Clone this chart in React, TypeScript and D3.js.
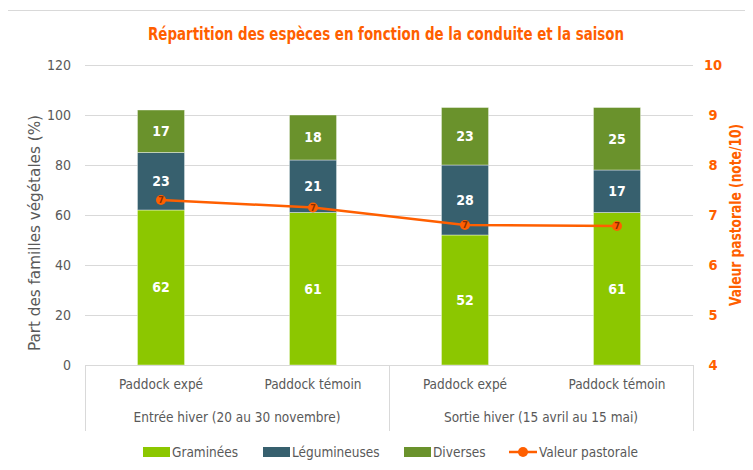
import { useEffect, useRef } from "react";
import * as d3 from "d3";

const categories = ["Paddock expé", "Paddock témoin", "Paddock expé", "Paddock témoin"];
const groups = ["Entrée hiver (20 au 30 novembre)", "Sortie hiver (15 avril au 15 mai)"];
const graminees = [62, 61, 52, 61];
const legumineuses = [23, 21, 28, 17];
const diverses = [17, 18, 23, 25];
const valeurPastorale = [7.3, 7.15, 6.8, 6.78];
const leftTicks = [0, 20, 40, 60, 80, 100, 120];
const rightTicks = [4, 5, 6, 7, 8, 9, 10];

const seriesNames = ["Graminées", "Légumineuses", "Diverses"];
const seriesColors = ["#8CC700", "#37606E", "#6A922C"];
const lineColor = "#FF5F00";
const FONT = "'Liberation Sans Narrow', 'DejaVu Sans Condensed', sans-serif";

export default function App() {
  const ref = useRef<SVGSVGElement>(null);

  useEffect(() => {
    if (!ref.current) return;
    const width = 753;
    const height = 470;
    const margin = { top: 65, right: 60, bottom: 105, left: 85 };
    const innerWidth = width - margin.left - margin.right;
    const innerHeight = height - margin.top - margin.bottom;

    const root = d3.select(ref.current);
    root.selectAll("*").remove();
    root.attr("width", width).attr("height", height).style("font-family", FONT);

    // frame
    root
      .append("rect")
      .attr("x", 5.5)
      .attr("y", 10.5)
      .attr("width", 760)
      .attr("height", 470)
      .attr("fill", "white")
      .attr("stroke", "#d9d9d9");

    root
      .append("text")
      .attr("x", 386)
      .attr("y", 40)
      .attr("text-anchor", "middle")
      .attr("fill", lineColor)
      .attr("font-size", 18)
      .attr("font-weight", "bold")
      .attr("textLength", 476)
      .attr("lengthAdjust", "spacingAndGlyphs")
      .text("Répartition des espèces en fonction de la conduite et la saison");

    const svg = root.append("g").attr("transform", `translate(${margin.left},${margin.top})`);

    const x = d3.scaleBand<number>().domain(d3.range(categories.length)).range([0, innerWidth]);
    const y = d3.scaleLinear().domain([0, 120]).range([innerHeight, 0]);
    const y2 = d3.scaleLinear().domain([4, 10]).range([innerHeight, 0]);
    const barW = x.bandwidth() * 0.31;

    // gridlines
    svg
      .append("g")
      .selectAll("line")
      .data(leftTicks.slice(1))
      .join("line")
      .attr("x1", 0)
      .attr("x2", innerWidth)
      .attr("y1", (d) => y(d) + 0.5)
      .attr("y2", (d) => y(d) + 0.5)
      .attr("stroke", "#d9d9d9")
      .attr("stroke-width", 1);

    // left tick labels
    svg
      .append("g")
      .selectAll("text")
      .data(leftTicks)
      .join("text")
      .attr("x", -14)
      .attr("y", (d) => y(d))
      .attr("dy", "0.35em")
      .attr("text-anchor", "end")
      .attr("fill", "#595959")
      .attr("font-size", 14)
      .text((d) => d);

    // right tick labels
    svg
      .append("g")
      .selectAll("text")
      .data(rightTicks)
      .join("text")
      .attr("x", innerWidth + 20)
      .attr("y", (d) => y2(d))
      .attr("dy", "0.35em")
      .attr("text-anchor", "middle")
      .attr("fill", lineColor)
      .attr("font-weight", "bold")
      .attr("font-size", 14.5)
      .text((d) => d);

    // axis titles
    svg
      .append("text")
      .attr("transform", `translate(-45,${innerHeight / 2 + 18}) rotate(-90)`)
      .attr("text-anchor", "middle")
      .attr("fill", "#595959")
      .attr("font-size", 15)
      .attr("textLength", 236)
      .attr("lengthAdjust", "spacingAndGlyphs")
      .text("Part des familles végétales (%)");

    svg
      .append("text")
      .attr("transform", `translate(${innerWidth + 48},${innerHeight / 2}) rotate(-90)`)
      .attr("text-anchor", "middle")
      .attr("fill", lineColor)
      .attr("font-weight", "bold")
      .attr("font-size", 15)
      .attr("textLength", 182)
      .attr("lengthAdjust", "spacingAndGlyphs")
      .text("Valeur pastorale (note/10)");

    // stacked bars
    const rows = categories.map((_, i) => ({ i, g: graminees[i], l: legumineuses[i], d: diverses[i] }));
    const stack = d3.stack<(typeof rows)[number]>().keys(["g", "l", "d"]);
    const stacked = stack(rows);

    stacked.forEach((layer, k) => {
      const gLayer = svg.append("g");
      gLayer
        .selectAll("rect")
        .data(layer)
        .join("rect")
        .attr("x", (d) => x(d.data.i)! + (x.bandwidth() - barW) / 2)
        .attr("y", (d) => y(d[1]))
        .attr("width", barW)
        .attr("height", (d) => y(d[0]) - y(d[1]))
        .attr("fill", seriesColors[k])
        .attr("stroke", "rgba(255,255,255,0.5)")
        .attr("stroke-width", 0.8);
      gLayer
        .selectAll("text")
        .data(layer)
        .join("text")
        .attr("x", (d) => x(d.data.i)! + x.bandwidth() / 2)
        .attr("y", (d) => y((d[0] + d[1]) / 2))
        .attr("dy", "0.35em")
        .attr("text-anchor", "middle")
        .attr("fill", "white")
        .attr("font-weight", "bold")
        .attr("font-size", 14)
        .text((d) => d[1] - d[0]);
    });

    // category axis box
    const axisG = svg.append("g").attr("transform", `translate(0,${innerHeight})`);
    axisG
      .append("line")
      .attr("x1", 0)
      .attr("x2", innerWidth)
      .attr("y1", 0.5)
      .attr("y2", 0.5)
      .attr("stroke", "#d9d9d9");
    [0, innerWidth / 2, innerWidth].forEach((vx) => {
      axisG
        .append("line")
        .attr("x1", vx + 0.5)
        .attr("x2", vx + 0.5)
        .attr("y1", 0)
        .attr("y2", 66)
        .attr("stroke", "#d9d9d9");
    });
    axisG
      .selectAll("text.cat")
      .data(categories)
      .join("text")
      .attr("class", "cat")
      .attr("x", (_, i) => x(i)! + x.bandwidth() / 2)
      .attr("y", 24)
      .attr("text-anchor", "middle")
      .attr("fill", "#595959")
      .attr("font-size", 13.5)
      .text((d) => d);
    axisG
      .selectAll("text.grp")
      .data(groups)
      .join("text")
      .attr("class", "grp")
      .attr("x", (_, i) => (i + 0.5) * (innerWidth / 2))
      .attr("y", 57)
      .attr("text-anchor", "middle")
      .attr("fill", "#595959")
      .attr("font-size", 13.5)
      .text((d) => d);

    // line
    const line = d3
      .line<number>()
      .x((_, i) => x(i)! + x.bandwidth() / 2)
      .y((d) => y2(d));
    svg
      .append("path")
      .datum(valeurPastorale)
      .attr("fill", "none")
      .attr("stroke", lineColor)
      .attr("stroke-width", 2.5)
      .attr("d", line);
    svg
      .append("g")
      .selectAll("circle")
      .data(valeurPastorale)
      .join("circle")
      .attr("cx", (_, i) => x(i)! + x.bandwidth() / 2)
      .attr("cy", (d) => y2(d))
      .attr("r", 5)
      .attr("fill", lineColor);
    svg
      .append("g")
      .selectAll("text")
      .data(valeurPastorale)
      .join("text")
      .attr("x", (_, i) => x(i)! + x.bandwidth() / 2)
      .attr("y", (d) => y2(d))
      .attr("dy", "0.35em")
      .attr("text-anchor", "middle")
      .attr("fill", "#8a2f00")
      .attr("font-size", 9)
      .attr("font-weight", "bold")
      .text((d) => Math.round(d));

    // legend
    const legend = root.append("g").attr("transform", `translate(0,452)`);
    const items = [
      { name: seriesNames[0], color: seriesColors[0], x: 143 },
      { name: seriesNames[1], color: seriesColors[1], x: 263 },
      { name: seriesNames[2], color: seriesColors[2], x: 404 },
    ];
    items.forEach((it) => {
      legend
        .append("rect")
        .attr("x", it.x)
        .attr("y", -5)
        .attr("width", 27)
        .attr("height", 10)
        .attr("fill", it.color);
      legend
        .append("text")
        .attr("x", it.x + 29)
        .attr("y", 0)
        .attr("dy", "0.35em")
        .attr("fill", "#595959")
        .attr("font-size", 13.5)
        .text(it.name);
    });
    legend
      .append("line")
      .attr("x1", 509)
      .attr("x2", 537)
      .attr("y1", 0)
      .attr("y2", 0)
      .attr("stroke", lineColor)
      .attr("stroke-width", 2.5);
    legend.append("circle").attr("cx", 523).attr("cy", 0).attr("r", 5).attr("fill", lineColor);
    legend
      .append("text")
      .attr("x", 539)
      .attr("y", 0)
      .attr("dy", "0.35em")
      .attr("fill", "#595959")
      .attr("font-size", 13.5)
      .text("Valeur pastorale");
  }, []);

  return <svg ref={ref} style={{ display: "block", margin: -8 }} />;
}
